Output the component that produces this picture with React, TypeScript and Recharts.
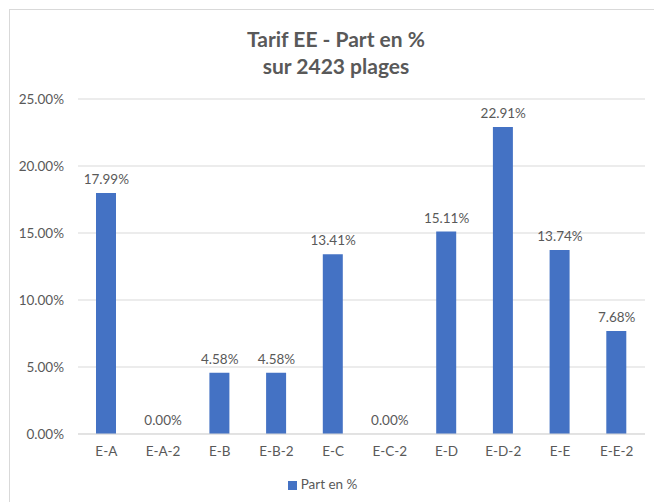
import React from "react";
import {
  Bar,
  CartesianGrid,
  ComposedChart,
  LabelList,
  Legend,
  Line,
  XAxis,
  YAxis,
} from "recharts";

const categories = ["E-A", "E-A-2", "E-B", "E-B-2", "E-C", "E-C-2", "E-D", "E-D-2", "E-E", "E-E-2"];
const shares = [17.99, 0, 4.58, 4.58, 13.41, 0, 15.11, 22.91, 13.74, 7.68];
const yTicks = [0, 5, 10, 15, 20, 25];
const seriesName = "Part en %";

const data = categories.map((name, i) => ({ name, part: shares[i] }));

const TEXT = "#595959";
const GRID = "#d9d9d9";
const BAR = "#4472C4";
const FONT = "Lato, 'Open Sans', sans-serif";

const pct = (v: number) => `${Number(v).toFixed(2)}%`;

export default function App() {
  return (
    <div
      style={{
        position: "fixed",
        left: 9,
        top: 9,
        width: 645,
        height: 493,
        borderTop: `1px solid ${GRID}`,
        borderLeft: `1px solid ${GRID}`,
        background: "#fff",
        fontFamily: FONT,
      }}
    >
      <div
        style={{
          position: "absolute",
          left: 0,
          top: 15,
          width: 652,
          textAlign: "center",
          fontWeight: 700,
          fontSize: 21,
          lineHeight: "27px",
          color: TEXT,
        }}
      >
        Tarif EE - Part en %
        <br />
        sur 2423 plages
      </div>
      <ComposedChart
        width={644}
        height={492}
        data={data}
        margin={{ top: 89, right: 9, left: 0, bottom: 10 }}
      >
        <CartesianGrid vertical={false} stroke={GRID} />
        <XAxis
          dataKey="name"
          height={42}
          tickSize={0}
          tickMargin={12}
          axisLine={{ stroke: GRID }}
          tick={{ fill: TEXT, fontSize: 13.5, fontFamily: FONT }}
          interval={0}
        />
        <YAxis
          width={68}
          domain={[0, 25]}
          ticks={yTicks}
          tickSize={0}
          tickMargin={14}
          axisLine={false}
          tickFormatter={pct}
          tick={{ fill: TEXT, fontSize: 13.5, fontFamily: FONT }}
        />
        <Legend
          iconType="square"
          iconSize={9}
          wrapperStyle={{ fontSize: 13.5, color: TEXT, fontFamily: FONT }}
          formatter={(value) => <span style={{ color: TEXT }}>{value}</span>}
        />
        <Bar dataKey="part" name={seriesName} fill={BAR} barSize={20} isAnimationActive={false} />
        {/* invisible series carrying the data labels, so the 0.00% values show too */}
        <Line
          dataKey="part"
          stroke="none"
          dot={false}
          activeDot={false}
          legendType="none"
          isAnimationActive={false}
        >
          <LabelList
            dataKey="part"
            position="top"
            offset={9}
            formatter={(v: any) => pct(v)}
            style={{ fill: TEXT, fontSize: 13.5, fontFamily: FONT }}
          />
        </Line>
      </ComposedChart>
    </div>
  );
}
